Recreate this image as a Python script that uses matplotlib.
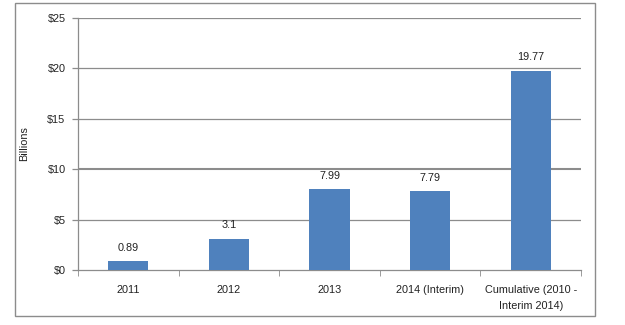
import matplotlib

matplotlib.use("Agg")
import matplotlib.pyplot as plt
from matplotlib.patches import Rectangle
from matplotlib.ticker import FuncFormatter

categories = ["2011", "2012", "2013", "2014 (Interim)", "Cumulative (2010 -\nInterim 2014)"]
values = [0.89, 3.1, 7.99, 7.79, 19.77]
value_labels = ["0.89", "3.1", "7.99", "7.79", "19.77"]
y_ticks = [0, 5, 10, 15, 20, 25]

BAR_COLOR = "#4F81BD"
LINE_COLOR = "#8C8C8C"
TEXT_COLOR = "#222222"

plt.rcParams["font.family"] = ["Liberation Sans", "DejaVu Sans"]
plt.rcParams["font.size"] = 7.8

fig = plt.figure(figsize=(6.25, 3.25), dpi=100)
fig.patch.set_facecolor("white")

# outer chart frame
fig.patches.append(Rectangle((15 / 625, 1 - 316 / 325), 580 / 625, 313 / 325,
                             transform=fig.transFigure, fill=False,
                             edgecolor=LINE_COLOR, linewidth=1.0))

ax = fig.add_axes([78 / 625, 1 - 270 / 325, 503 / 625, 252 / 325])
x = list(range(len(categories)))
ax.bar(x, values, width=0.4, color=BAR_COLOR, zorder=3)

for xi, v, lab in zip(x, values, value_labels):
    ax.annotate(lab, (xi, v), xytext=(0, 6), textcoords="offset points",
                ha="center", va="bottom", color=TEXT_COLOR)

ax.set_xlim(-0.5, len(categories) - 0.5)
ax.set_ylim(0, 25)
ax.set_yticks(y_ticks)
ax.yaxis.set_major_formatter(FuncFormatter(lambda v, _: f"${v:.0f}"))
for t in y_ticks[1:]:
    ax.axhline(t, color=LINE_COLOR, linewidth=1.5 if t == 10 else 0.9, zorder=1)

ax.set_xticks(x)
ax.set_xticklabels(categories, linespacing=1.75)
ax.tick_params(axis="x", which="major", length=0, pad=11, labelcolor=TEXT_COLOR)
ax.set_xticks([i - 0.5 for i in range(len(categories) + 1)], minor=True)
ax.tick_params(axis="x", which="minor", length=4, color=LINE_COLOR, direction="out")
ax.tick_params(axis="y", which="major", length=4, width=0.9, color=LINE_COLOR,
               direction="out", pad=5, labelcolor=TEXT_COLOR)

for side in ["top", "right"]:
    ax.spines[side].set_visible(False)
for side in ["left", "bottom"]:
    ax.spines[side].set_color(LINE_COLOR)
    ax.spines[side].set_linewidth(0.9)

ax.set_ylabel("Billions", color=TEXT_COLOR, labelpad=13)

fig.savefig("out.png", dpi=100, facecolor="white")
